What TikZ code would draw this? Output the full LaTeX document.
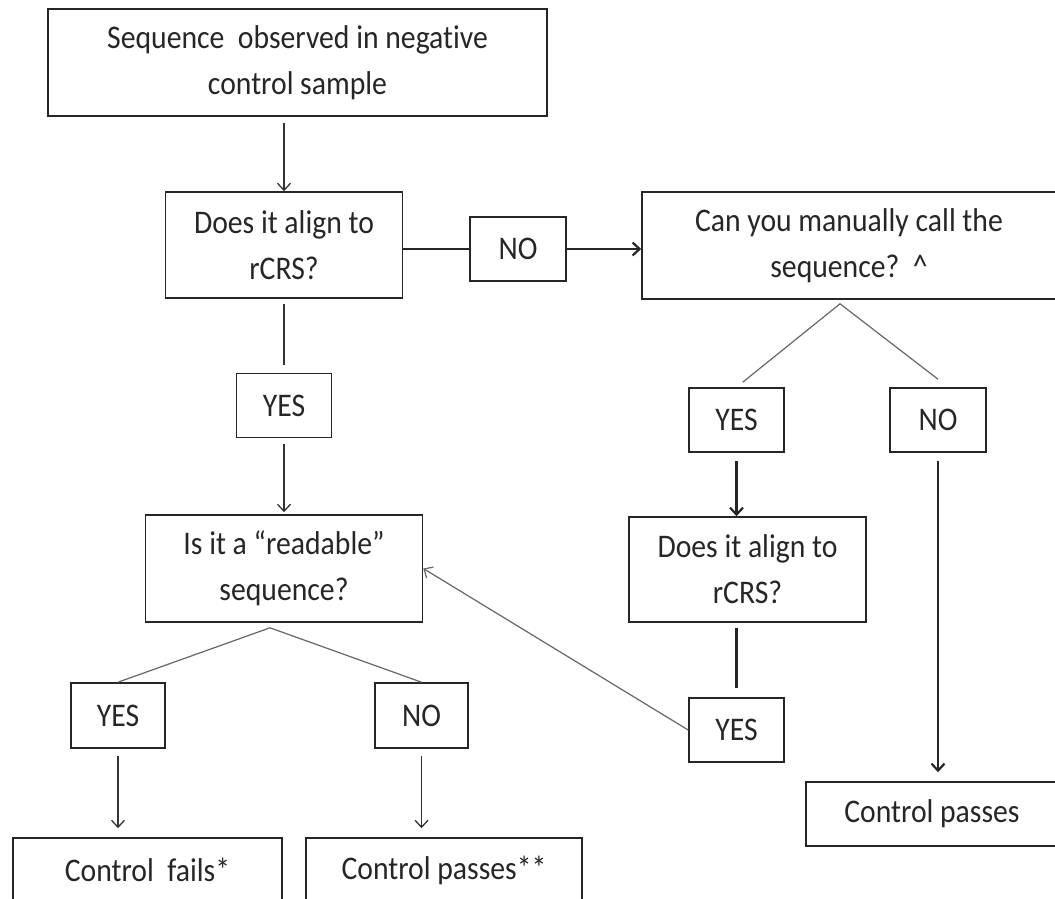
\documentclass[tikz,border=0pt]{standalone}
\usepackage{fontspec}
\setmainfont{Carlito}[FakeStretch=0.9, Ligatures={NoCommon}]
\usetikzlibrary{arrows.meta}
\begin{document}
\begin{tikzpicture}[x=1pt,y=1pt]
\tikzstyle{every node}+=[inner sep=0pt, font=\fontsize{33}{46}\selectfont, text=black!85]
\tikzstyle{box}=[draw=black!85, line width=1.6pt, align=center, minimum height=64pt]
\tikzstyle{link}=[draw=black!80, line width=1.3pt]
\tikzstyle{heavy}=[draw=black!85, line width=2.2pt]
\tikzstyle{fork}=[draw=black!60, line width=1.2pt]
\tikzstyle{flow}=[-{Straight Barb[length=7pt,width=13pt]}]
\useasboundingbox (0,0) rectangle (1055,-899);
\node[box, minimum width=499pt, minimum height=107pt] (obs) at (297.5,-62.5) {Sequence\ \ observed in negative\\control sample};
\node[box, minimum width=237pt, minimum height=106pt] (align1) at (284,-245) {Does it align to\\rCRS?};
\node[box, minimum width=96pt] (no1) at (518,-249) {NO};
\node[box, minimum width=414pt, minimum height=107pt] (manual) at (849,-245.5) {Can you manually call the\\sequence?\ \ \textasciicircum};
\node[box, minimum width=95pt] (yes1) at (284,-405.5) {YES};
\node[box, minimum width=277pt, minimum height=107pt] (readable) at (284,-568.5) {Is it a “readable”\\sequence?};
\node[box, minimum width=94pt, minimum height=65pt] (yes2) at (118,-715.5) {YES};
\node[box, minimum width=93pt, minimum height=65pt] (no2) at (421.5,-715.5) {NO};
\node[box, minimum width=269pt] (fails) at (147.5,-870) {Control\ \ fails*};
\node[box, minimum width=276pt] (passes2) at (444,-870) {Control passes**};
\node[box, minimum width=95pt] (yes3) at (736.5,-420) {YES};
\node[box, minimum width=96pt] (no3) at (938,-420) {NO};
\node[box, minimum width=237pt, minimum height=105pt] (align2) at (747.5,-569.5) {Does it align to\\rCRS?};
\node[box, minimum width=95pt] (yes4) at (736.5,-730) {YES};
\node[box, minimum width=252pt] (passes1) at (932,-814) {Control passes};
\coordinate (fork1) at ([xshift=-9pt,yshift=-4pt]manual.south);
\coordinate (fork2) at ([xshift=-14pt,yshift=-5pt]readable.south);
\draw[link, flow, shorten <=6pt] (obs.south -| align1) -- (align1.north);
\draw[heavy] (align1.east |- no1) -- (no1.west);
\draw[heavy, flow] (no1.east) -- (manual.west |- no1);
\draw[link, shorten <=5pt, shorten >=8pt] (align1.south) -- (yes1.north);
\draw[link, flow, shorten <=6pt, shorten >=2pt] (yes1.south) -- (readable.north);
\draw[fork, shorten <=8pt] (yes3.north) -- (fork1) -- ([yshift=8pt]no3.north);
\draw[fork] (yes2.north) -- (fork2) -- (no2.north);
\draw[link, flow, shorten <=7pt, shorten >=9pt] (yes2.south) -- (yes2.south |- fails.north);
\draw[link, flow, shorten <=7pt, shorten >=9pt] (no2.south) -- (no2.south |- passes2.north);
\draw[heavy, flow, shorten <=8pt] (yes3.south) -- (yes3.south |- align2.north);
\draw[heavy, flow, shorten <=8pt, shorten >=9pt] (no3.south) -- (no3.south |- passes1.north);
\draw[heavy, shorten <=5pt, shorten >=9pt] (align2.south -| yes4) -- (yes4.north);
\draw[fork, flow] (yes4.west) -- (readable.east);
\end{tikzpicture}
\end{document}
